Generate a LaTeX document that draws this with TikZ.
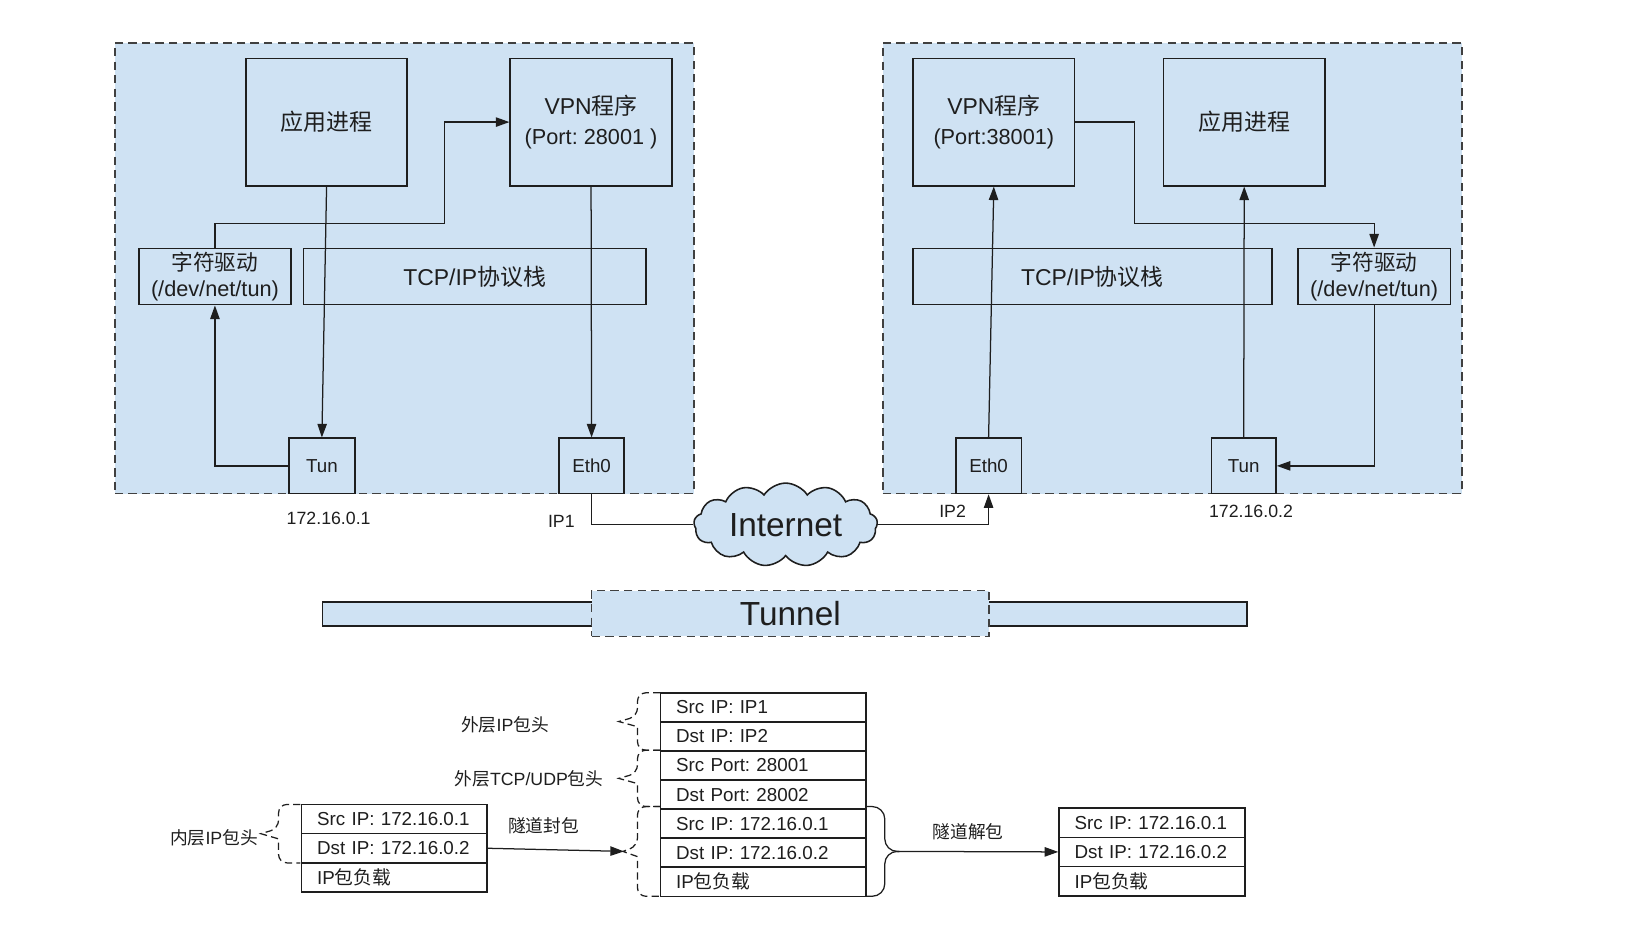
\documentclass[tikz,border=0pt]{standalone}
\usepackage{fontspec}
\setmainfont{Liberation Sans}
\newfontfamily\cjk{Noto Sans CJK SC}
\newcommand\zh[1]{{\cjk #1}}
\usetikzlibrary{arrows.meta,shapes.symbols,calc}
\definecolor{pale}{RGB}{207,226,243}
\definecolor{ink}{RGB}{30,30,30}
% brace: style, x of ends, x of spine, x of tip, y1, y2
\newcommand\BraceShape[6]{%
  \draw[#1,rounded corners=4pt] (#2,#5) -- (#3,#5) -- (#3,{0.5*(#5+#6)-5}) [sharp corners] -- (#4,{0.5*(#5+#6)}) -- (#3,{0.5*(#5+#6)+5}) [rounded corners=4pt] -- (#3,#6) -- (#2,#6);}
\begin{document}
\frenchspacing
\begin{tikzpicture}[x=0.5pt,y=-0.5pt,
  box/.style={draw=ink, line width=0.75pt, fill=pale, inner sep=0pt, align=center, text=ink},
  container/.style={draw=ink!85, dash pattern=on 4pt off 2.5pt, line width=0.8pt, fill=pale, inner sep=0pt},
  arr/.style={draw=ink, line width=0.6pt, -{Triangle[length=6.5pt,width=4.5pt]}},
  link/.style={draw=ink, line width=0.6pt},
  cell/.style={draw=ink, line width=0.75pt, fill=white, text=ink, inner xsep=7.5pt, inner ysep=0pt, align=left, minimum height=14pt, font=\fontsize{9}{11}\selectfont},
  lbl/.style={text=ink, inner sep=0pt, font=\fontsize{8.5}{10}\selectfont},
  fbig/.style={font=\fontsize{11}{13}\selectfont},
  fmid/.style={font=\fontsize{10.4}{12.5}\selectfont},
  fsml/.style={font=\fontsize{9}{11}\selectfont},
  dbrace/.style={draw=ink, line width=0.6pt, dash pattern=on 3.5pt off 2pt},
  sbrace/.style={draw=ink, line width=0.6pt}
]
\path[use as bounding box] (0,0) rectangle (1568,907);

% containers
\node[container, minimum width=277.5pt, minimum height=216pt] (boxL) at (387.5,257) {};
\node[container, minimum width=277.5pt, minimum height=216pt] (boxR) at (1123.5,257) {};

% left host
\node[box, fbig, minimum width=77pt, minimum height=61pt] (appL) at (313,117) {\zh{应用进程}};
\node[box, fbig, minimum width=77.5pt, minimum height=61pt] (vpnL) at (566.5,117) {VPN\zh{程序}\\[1pt]{\fontsize{10.4}{12}\selectfont(Port: 28001 )}};
\node[box, fmid, minimum width=73pt, minimum height=27pt] (chrL) at (206,265) {\zh{字符驱动}\\(/dev/net/tun)};
\node[box, fbig, minimum width=164pt, minimum height=27pt] (tcpL) at (455,265) {TCP/IP\zh{协议栈}};
\node[box, fsml, minimum width=31.5pt, minimum height=26.5pt] (tunL) at (308.5,446.5) {Tun};
\node[box, fsml, minimum width=31pt, minimum height=26.5pt] (ethL) at (567,446.5) {Eth0};

% right host
\node[box, fbig, minimum width=77.5pt, minimum height=61pt] (vpnR) at (952.5,117) {VPN\zh{程序}\\[1pt]{\fontsize{10.4}{12}\selectfont(Port:38001)}};
\node[box, fbig, minimum width=77.5pt, minimum height=61pt] (appR) at (1192.5,117) {\zh{应用进程}};
\node[box, fbig, minimum width=172pt, minimum height=27pt] (tcpR) at (1047,265) {TCP/IP\zh{协议栈}};
\node[box, fmid, minimum width=73pt, minimum height=27pt] (chrR) at (1317,265) {\zh{字符驱动}\\(/dev/net/tun)};
\node[box, fsml, minimum width=31.5pt, minimum height=26.5pt] (ethR) at (947.5,446.5) {Eth0};
\node[box, fsml, minimum width=31pt, minimum height=26.5pt] (tunR) at (1192,446.5) {Tun};

% internet
\node[cloud, cloud puffs=13, cloud puff arc=115, cloud ignores aspect, draw=ink, line width=0.75pt, fill=pale, minimum width=88pt, minimum height=40pt, inner sep=0pt, text=ink, font=\fontsize{16}{18}\selectfont] (inet) at (753,503) {Internet};

% labels
\node[lbl] (ipa) at (315,497) {172.16.0.1};
\node[lbl] (ipb) at (1199,490) {172.16.0.2};
\node[lbl] (ip1) at (538,500) {IP1};
\node[lbl] (ip2) at (913,490) {IP2};

% left connectors
\draw[arr] (appL.south) -- (tunL.north);
\draw[arr] (chrL.north) |- (426,214) |- (vpnL.west);
\draw[arr] (tunL.west) -| (chrL.south);
\draw[arr] (vpnL.south) -- (ethL.north);
\draw[link] (ethL.south) |- (inet.west);
% right connectors
\draw[arr] (inet.east) -| (ethR.south);
\draw[arr] (ethR.north) -- (vpnR.south);
\draw[arr] (tunR.north) -- (appR.south);
\draw[arr] (vpnR.east) -| (1087,214) -| (chrR.north);
\draw[arr] (chrR.south) |- (tunR.east);

% tunnel
\node[box, minimum width=443pt, minimum height=11.5pt] (bar) at (752,588.5) {};
\node[container, text=ink, minimum width=190.5pt, minimum height=22pt, font=\fontsize{16}{18}\selectfont] (tunnel) at (757.5,588) {Tunnel};

% inner packet
\node[cell, text width=74pt] (i1) at (378,785) {Src IP: 172.16.0.1};
\node[cell, text width=74pt] (i2) at (378,813) {Dst IP: 172.16.0.2};
\node[cell, text width=74pt] (i3) at (378,841) {IP\zh{包负载}};

% outer packet
\node[cell, text width=83.5pt, minimum height=13.93pt] (m1) at (731.5,677.9) {Src IP: IP1};
\node[cell, text width=83.5pt, minimum height=13.93pt] (m2) at (731.5,705.8) {Dst IP: IP2};
\node[cell, text width=83.5pt, minimum height=13.93pt] (m3) at (731.5,733.6) {Src Port: 28001};
\node[cell, text width=83.5pt, minimum height=13.93pt] (m4) at (731.5,761.5) {Dst Port: 28002};
\node[cell, text width=83.5pt, minimum height=13.93pt] (m5) at (731.5,789.4) {Src IP: 172.16.0.1};
\node[cell, text width=83.5pt, minimum height=13.93pt] (m6) at (731.5,817.2) {Dst IP: 172.16.0.2};
\node[cell, text width=83.5pt, minimum height=13.93pt] (m7) at (731.5,845.1) {IP\zh{包负载}};

% decapsulated packet
\node[cell, text width=74pt] (r1) at (1104,788.5) {Src IP: 172.16.0.1};
\node[cell, text width=74pt] (r2) at (1104,816.5) {Dst IP: 172.16.0.2};
\node[cell, text width=74pt] (r3) at (1104,844.5) {IP\zh{包负载}};

% braces
\BraceShape{dbrace}{633}{611}{593}{664}{719}
\BraceShape{dbrace}{633}{611}{593}{719}{773}
\BraceShape{dbrace}{633}{611}{597}{773}{859}
\BraceShape{dbrace}{288}{267}{250}{771}{827}
\draw[sbrace, rounded corners=6pt] (831,773) -- (848,773) -- (848,816) -- (862,816);
\draw[sbrace, rounded corners=6pt] (831,859) -- (848,859) -- (848,816) -- (862,816);
\coordinate (tipE) at (598,816);
\coordinate (tipD) at (860,816);

\node[lbl] (lo1) at (484,695) {\zh{外层}IP\zh{包头}};
\node[lbl] (lo2) at (507,746) {\zh{外层}TCP/UDP\zh{包头}};
\node[lbl] (lin) at (205,803) {\zh{内层}IP\zh{包头}};
\node[lbl] (lenc) at (521,791) {\zh{隧道封包}};
\node[lbl] (ldec) at (928,797) {\zh{隧道解包}};

\draw[arr] (i2.east) -- (tipE);
\draw[arr] (tipD) -- (r2.west);
\end{tikzpicture}
\end{document}
